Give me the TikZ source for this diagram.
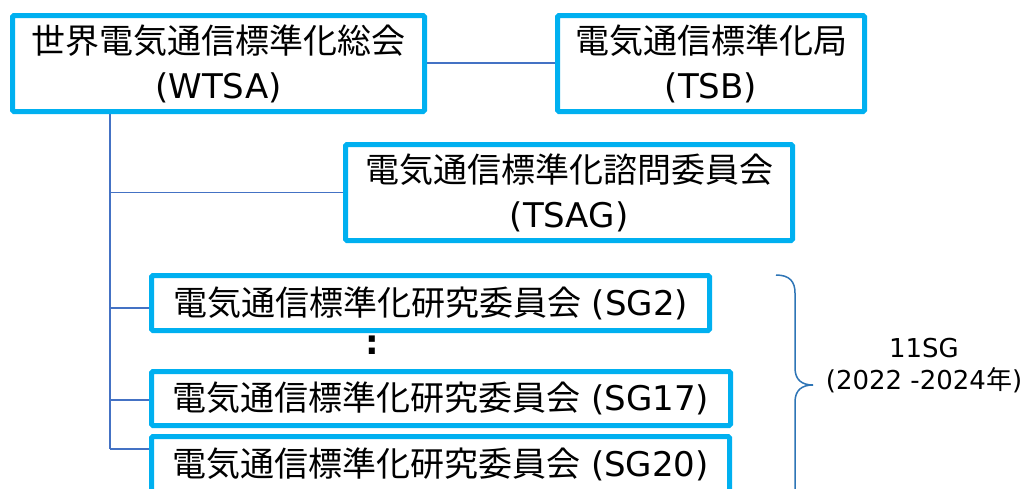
\documentclass[tikz,border=0pt]{standalone}
\usepackage{fontspec}
\setmainfont{DejaVu Sans}
\newfontfamily\jp{Noto Sans CJK JP}
\usetikzlibrary{backgrounds}
\definecolor{boxblue}{HTML}{00B0F0}
\definecolor{lineblue}{HTML}{4472C4}
\definecolor{bracecol}{HTML}{2E75B6}
\begin{document}
\begin{tikzpicture}[x=1pt,y=-1pt,
  box/.style={draw=boxblue, line width=5pt, rounded corners=1.5pt, fill=white,
    inner sep=0pt, align=center, font=\fontsize{34}{45}\selectfont},
  conn/.style={draw=lineblue, line width=1.5pt},
  bracestyle/.style={draw=bracecol, line width=1.5pt},
  small/.style={font=\fontsize{26}{32}\selectfont, align=center}]
\clip (0,0) rectangle (1030,488);
\node[box, minimum width=412pt, minimum height=96pt] (wtsa) at (218.5,63.5)
  {{\jp 世界電気通信標準化総会}\\(WTSA)};
\node[box, minimum width=307pt, minimum height=96pt] (tsb) at (711,63.5)
  {{\jp 電気通信標準化局}\\(TSB)};
\node[box, minimum width=447pt, minimum height=96pt] (tsag) at (569,192.5)
  {{\jp 電気通信標準化諮問委員会}\\(TSAG)};
\node[box, minimum width=558pt, minimum height=55pt] (sg2) at (430.5,303)
  {{\jp 電気通信標準化研究委員会} (SG2)};
\node[box, minimum width=579pt, minimum height=54pt] (sg17) at (441,398.5)
  {{\jp 電気通信標準化研究委員会} (SG17)};
\node[box, minimum width=578pt, minimum height=55pt] (sg20) at (440.5,464)
  {{\jp 電気通信標準化研究委員会} (SG20)};
\node[font=\fontsize{34}{40}\selectfont\bfseries, inner sep=0pt] (dots) at (372,345) {:};
\coordinate (ttop) at (110,114);
\coordinate (tbot) at (110,449);
\coordinate (b2) at (110,308);
\begin{scope}[on background layer]
\fill[white] (0,0) rectangle (1030,488);
\draw[conn] (wtsa.east |- 0,63) -- (tsb.west |- 0,63);
\draw[conn] (ttop) -- (tbot);
\draw[conn] (ttop |- tsag.west) -- (tsag.west);
\draw[conn] (b2) -- (b2 -| sg2.west);
\draw[conn] (ttop |- 0,400) -- (sg17.west |- 0,400);
\draw[conn] (tbot) -- (tbot -| sg20.west);
\end{scope}
\draw[bracestyle] (776,275) .. controls (790,275) and (795,282) .. (795,293)
  -- (795,368) .. controls (795,380) and (802,385) .. (813,385);
\draw[bracestyle] (813,385) .. controls (802,385) and (795,390) .. (795,402)
  -- (795,495);
\node[small] (count) at (924,366) {11SG\\(2022 -2024{\jp 年})};
\end{tikzpicture}
\end{document}
